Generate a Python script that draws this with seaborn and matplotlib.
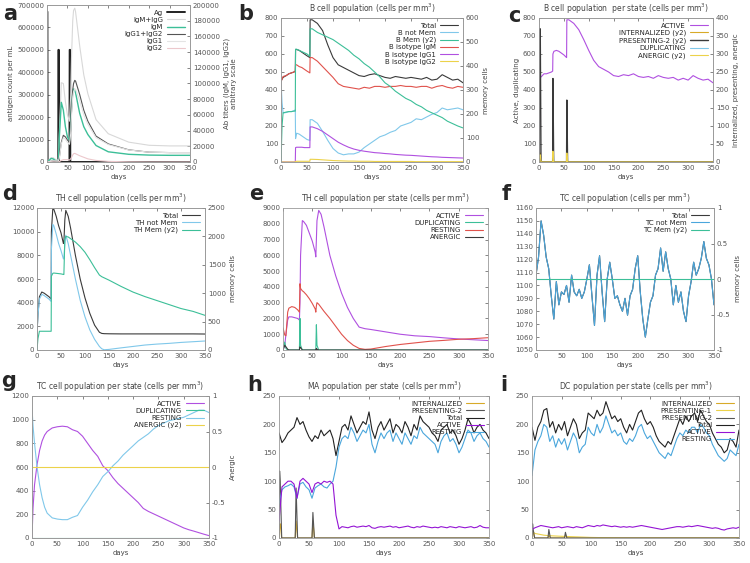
import numpy as np
import matplotlib
matplotlib.use('Agg')
import matplotlib.pyplot as plt
import seaborn as sns

# ---- data (days on x) ----

# a: antigen and antibody titers
a_ag_days = [0, 1, 1.5, 27.5, 28, 29, 29.5, 55, 55.5, 56.5, 57, 350]
a_ag = [670000, 670000, 0, 0, 500000, 500000, 0, 0, 500000, 500000, 0, 0]
a_ab_days = [0, 5, 10, 15, 20, 25, 28, 30, 35, 40, 45, 50, 55, 58, 60, 63, 65, 68, 70, 80, 90, 100, 120, 150, 200, 250, 300, 350]
a_igm_igg = [0, 2500, 5500, 5500, 3500, 2500, 3500, 35000, 101000, 100000, 77000, 60000, 52000, 85000, 133000, 180000, 193000, 196000, 191000, 148000, 111000, 87000, 54000, 36000, 25300, 21300, 20500, 20500]
a_igm = [0, 2000, 4500, 4000, 2000, 1000, 2000, 30000, 76000, 66000, 45000, 32000, 27000, 45000, 68000, 88000, 93000, 92000, 88000, 62000, 45000, 35000, 21000, 13000, 9800, 8800, 8500, 8500]
a_igg12 = [0, 500, 1000, 1500, 1500, 1500, 1500, 5000, 25000, 34000, 32000, 28000, 25000, 40000, 65000, 92000, 100000, 104000, 103000, 86000, 66000, 52000, 33000, 23000, 15500, 12500, 12000, 12000]
a_igg1 = [0, 500, 1000, 1500, 1500, 1500, 1500, 4500, 23000, 31000, 29000, 25000, 22500, 36000, 59000, 83000, 89500, 93000, 92500, 78000, 60000, 48000, 31000, 22200, 15300, 12500, 12000, 12000]
a_igg2 = [0, 0, 0, 0, 0, 0, 0, 500, 2000, 3000, 3000, 3000, 2500, 4000, 6000, 9000, 10500, 11000, 10500, 8000, 6000, 4000, 2000, 800, 200, 0, 0, 0]

# b: B cell population
b_days = [0, 2, 4, 10, 15, 20, 25, 27.5, 28, 30, 35, 40, 45, 50, 55.5, 56, 60,
          70, 80, 90, 100, 110, 120, 130, 140, 150, 160, 170, 180, 190, 200, 210,
          220, 230, 240, 250, 260, 270, 280, 290, 300, 310, 320, 330, 340, 350]
b_total = [450, 460, 470, 480, 490, 495, 500, 505, 625, 625, 620, 610, 600, 590, 580, 790, 790,
           770, 730, 650, 580, 540, 525, 510, 495, 480, 475, 485, 490, 480, 470, 465,
           475, 470, 465, 470, 465, 460, 470, 455, 460, 485, 470, 455, 460, 440]
b_notmem = [450, 330, 272, 275, 280, 280, 285, 290, 130, 160, 155, 145, 135, 125, 120, 235, 235,
            215, 170, 120, 75, 50, 40, 45, 45, 55, 80, 100, 120, 140, 150, 165,
            175, 200, 210, 220, 240, 235, 250, 265, 275, 300, 290, 295, 300, 290]
b_mem = [0, 150, 205, 208, 210, 210, 212, 212, 470, 470, 465, 460, 455, 450, 440, 555, 555,
         540, 530, 520, 510, 495, 480, 465, 445, 430, 410, 395, 375, 355, 330, 315,
         295, 280, 265, 255, 240, 230, 215, 205, 195, 185, 170, 160, 150, 142]
b_igm = [445, 460, 475, 480, 490, 495, 500, 505, 540, 540, 530, 525, 515, 505, 495, 580, 580,
         560, 530, 500, 470, 435, 420, 415, 410, 405, 415, 410, 420, 420, 415, 420,
         420, 425, 420, 420, 415, 420, 420, 410, 420, 425, 415, 410, 420, 415]
b_igg1 = [0, 0, 0, 0, 0, 0, 0, 0, 80, 82, 82, 82, 80, 80, 80, 195, 195,
          185, 170, 150, 130, 110, 95, 82, 72, 65, 60, 56, 52, 50, 47, 45,
          42, 40, 38, 37, 35, 33, 31, 29, 28, 26, 25, 24, 23, 22]
b_igg2 = [0, 0, 0, 0, 0, 0, 0, 0, 3, 4, 4, 4, 4, 4, 4, 15, 15,
          14, 12, 10, 8, 7, 6, 5, 5, 4, 4, 4, 3, 3, 3, 3,
          3, 3, 3, 3, 2, 2, 2, 2, 2, 2, 2, 2, 2, 2]

# c: B cell population per state
c_days = [0, 1, 3, 5, 10, 15, 20, 25, 27.5, 28, 30, 35, 40, 45, 50, 55.5, 56, 60,
          70, 80, 90, 100, 110, 120, 130, 140, 150, 160, 170, 180, 190, 200, 210,
          220, 230, 240, 250, 260, 270, 280, 290, 300, 310, 320, 330, 340, 350]
c_active = [0, 200, 470, 475, 490, 490, 495, 500, 505, 600, 615, 620, 615, 605, 595, 580, 790, 790,
            770, 735, 680, 620, 565, 530, 515, 500, 480, 475, 485, 480, 490, 475, 470,
            475, 465, 480, 470, 465, 470, 455, 465, 455, 480, 465, 455, 460, 440]
c_spike_days = [0, 1.5, 2.5, 4, 27.5, 28, 29.5, 55.5, 56, 57.5, 350]
c_internalized = [0, 25, 25, 0, 0, 15, 0, 0, 30, 0, 0]
c_presenting2 = [0, 370, 370, 0, 0, 232, 0, 0, 172, 0, 0]
c_duplicating = [0, 0, 0, 0, 0, 140, 0, 0, 180, 0, 0]
c_anergic = [0, 20, 20, 0, 0, 30, 0, 0, 25, 0, 0]

# d: TH cell population
d_days = [0, 2, 5, 10, 15, 20, 25, 29.5, 30, 33, 35, 40, 45, 50, 55, 56, 58, 60, 65, 70,
          80, 90, 100, 110, 120, 130, 135, 140, 150, 175, 200, 225, 250, 275, 300, 325, 350]
d_total = [1400, 3000, 4500, 4900, 4800, 4650, 4500, 4300, 10000, 12000, 11900, 11300, 10500, 9900,
           9000, 9100, 11000, 11800, 11300, 10300, 8000, 6000, 4400, 3100, 2100, 1500,
           1400, 1380, 1370, 1360, 1360, 1360, 1360, 1360, 1360, 1360, 1350]
d_notmem = [1400, 2900, 4300, 4700, 4600, 4450, 4300, 4100, 8500, 10600, 10500, 9800, 9000, 8400,
            7700, 7700, 9000, 9700, 9000, 8000, 6000, 4200, 2800, 1700, 900, 300,
            100, 20, 50, 180, 300, 420, 500, 560, 640, 700, 760]
d_mem = [0, 200, 330, 330, 330, 330, 330, 330, 1300, 1350, 1355, 1350, 1345, 1340,
         1330, 1330, 1950, 2000, 1990, 1960, 1900, 1820, 1720, 1590, 1450, 1320,
         1290, 1270, 1230, 1120, 1020, 940, 870, 800, 730, 680, 610]

# e: TH cell population per state
e_days = [0, 3, 5, 8, 10, 15, 20, 25, 28, 29, 30, 33, 35, 40, 45, 50, 55, 56, 57, 58, 61, 65, 70,
          80, 90, 100, 110, 120, 130, 140, 150, 175, 200, 225, 250, 275, 300, 325, 350]
e_active = [0, 300, 1000, 1900, 2100, 2100, 2050, 2000, 1900, 3000, 6000, 8200, 8150, 7900, 7400, 6900,
            6200, 5900, 7000, 8200, 8850, 8600, 7800, 6000, 4700, 3600, 2700, 2000, 1450, 1350, 1300,
            1150, 1000, 900, 850, 770, 700, 650, 600]
e_duplicating = [0, 500, 100, 0, 0, 0, 0, 0, 0, 2000, 300, 0, 0, 0, 0, 0,
                 0, 0, 1600, 300, 0, 0, 0, 0, 0, 0, 0, 0, 0, 0, 0,
                 0, 0, 0, 0, 0, 0, 0, 0]
e_resting = [1400, 950, 900, 2400, 2650, 2750, 2700, 2550, 2400, 4200, 3900, 3750, 3700, 3500, 3250, 2950,
             2600, 2400, 2800, 3000, 2900, 2700, 2450, 2000, 1500, 1000, 600, 300, 100, 40, 60,
             220, 350, 450, 550, 610, 680, 720, 780]
e_anergic = [0, 300, 200, 50, 0, 0, 0, 0, 0, 200, 150, 0, 0, 0, 0, 0,
             0, 0, 100, 50, 0, 0, 0, 0, 0, 0, 0, 0, 0, 0, 0,
             0, 0, 0, 0, 0, 0, 0, 0]

# f: TC cell population (every 5 days)
f_days = list(range(0, 351, 5))
f_total = [1108, 1122, 1150, 1139, 1122, 1113, 1092, 1074, 1103, 1085, 1095, 1093, 1100, 1087, 1108,
           1095, 1092, 1097, 1090, 1095, 1105, 1116, 1092, 1069, 1108, 1123, 1095, 1072, 1105,
           1118, 1105, 1090, 1092, 1085, 1080, 1090, 1077, 1092, 1097, 1113, 1123, 1095, 1074,
           1060, 1074, 1087, 1092, 1108, 1113, 1129, 1111, 1126, 1113, 1105, 1085, 1100, 1087,
           1095, 1080, 1072, 1092, 1103, 1118, 1108, 1113, 1121, 1134, 1121, 1116, 1105, 1085]
f_mem = [0] * len(f_days)

# g: TC cell population per state
g_days = [0, 2, 5, 10, 15, 20, 25, 30, 40, 50, 60, 70, 80, 90, 100, 110, 120, 130, 140, 150,
          160, 170, 180, 190, 200, 210, 220, 230, 240, 250, 260, 270, 280, 290, 300, 310, 320, 330, 340, 350]
g_active = [0, 250, 450, 620, 740, 820, 870, 900, 930, 940, 945, 940, 915, 900, 860, 800, 740, 690, 610, 570,
            510, 460, 420, 380, 340, 300, 250, 225, 205, 185, 165, 145, 125, 105, 85, 70, 58, 45, 32, 20]
g_resting = [1100, 950, 800, 600, 450, 340, 260, 210, 170, 160, 155, 155, 175, 190, 260, 320, 390, 450, 520, 560,
             610, 650, 700, 740, 780, 820, 850, 880, 920, 950, 970, 990, 1000, 1010, 1020, 1040, 1060, 1080, 1080, 1060]
g_duplicating = [0] * len(g_days)
g_anergic = [0] * len(g_days)

# h: MA population per state (every 5 days)
h_days = list(range(0, 351, 5))
h_total = [185, 168, 175, 185, 190, 195, 212, 200, 205, 190, 178, 170, 180, 175, 190, 180, 185, 190, 175, 145,
           170, 195, 200, 190, 215, 200, 185, 195, 205, 200, 222, 190, 175, 195, 205, 190, 200, 210, 185, 200,
           195, 185, 205, 195, 180, 200, 190, 215, 205, 200, 195, 185, 180, 170, 190, 195, 200, 185, 190, 180,
           165, 175, 190, 210, 200, 185, 195, 200, 190, 185, 175]
h_resting = [60, 85, 90, 92, 95, 90, 70, 95, 98, 90, 85, 70, 88, 92, 95, 90, 88, 95, 100, 125,
             160, 175, 180, 175, 195, 185, 170, 180, 190, 185, 200, 165, 150, 170, 185, 175, 185, 190, 170, 185,
             175, 165, 185, 175, 165, 180, 175, 195, 185, 180, 175, 170, 165, 150, 170, 180, 185, 170, 175, 165,
             150, 160, 175, 190, 185, 170, 180, 185, 175, 170, 160]
h_active = [30, 90, 95, 100, 100, 95, 70, 100, 105, 100, 95, 80, 95, 98, 95, 100, 98, 100, 95, 40,
            16, 20, 19, 18, 20, 21, 19, 20, 21, 20, 22, 18, 17, 19, 20, 19, 20, 21, 19, 20,
            18, 19, 20, 21, 19, 18, 20, 19, 21, 20, 19, 18, 19, 18, 20, 19, 18, 20, 19, 18,
            20, 19, 18, 19, 20, 18, 19, 22, 19, 18, 18]
h_spike_days = [0, 1, 2, 4.5, 27, 28.5, 31, 55, 56.5, 59, 350]
h_internalized = [0, 20, 25, 0, 0, 30, 0, 0, 30, 0, 0]
h_presenting2 = [0, 118, 100, 0, 0, 88, 0, 0, 45, 0, 0]

# i: DC population per state (every 5 days)
i_days = list(range(0, 351, 5))
i_total = [195, 172, 195, 205, 225, 228, 195, 205, 185, 200, 190, 205, 180, 195, 210, 200, 175, 185, 190, 220,
           215, 210, 225, 215, 220, 240, 225, 210, 215, 205, 210, 195, 185, 200, 190, 205, 220, 225, 210, 200,
           205, 195, 180, 170, 165, 160, 170, 165, 180, 195, 210, 200, 215, 205, 215, 220, 205, 225, 215, 205,
           200, 185, 175, 165, 160, 150, 155, 175, 170, 160, 190]
i_resting = [110, 155, 170, 180, 200, 195, 170, 180, 160, 175, 165, 175, 155, 170, 185, 175, 150, 160, 165, 195,
             185, 180, 200, 185, 195, 215, 200, 185, 190, 180, 185, 170, 165, 175, 170, 180, 195, 200, 185, 175,
             180, 170, 160, 150, 145, 140, 150, 145, 160, 175, 185, 180, 190, 185, 195, 195, 185, 200, 195, 185,
             180, 165, 155, 145, 140, 135, 140, 155, 150, 145, 165]
i_active = [15, 18, 20, 22, 21, 20, 19, 18, 19, 20, 18, 19, 20, 19, 18, 20, 19, 18, 20, 22,
            21, 20, 22, 21, 23, 22, 21, 20, 21, 20, 19, 20, 19, 20, 19, 20, 21, 22, 21, 20,
            19, 18, 17, 16, 15, 16, 17, 18, 19, 20, 20, 19, 20, 21, 20, 21, 22, 21, 20, 19,
            18, 17, 18, 17, 15, 14, 16, 17, 18, 17, 19]
i_pres1_days = [0, 5, 10, 20, 30, 50, 75, 100, 150, 350]
i_presenting1 = [12, 8, 7, 5, 4, 3, 2, 1, 0, 0]
i_spike_days = [0, 1, 2, 4.5, 27, 28.5, 31, 55, 56.5, 59, 350]
i_internalized = [0, 10, 10, 0, 0, 5, 0, 0, 5, 0, 0]
i_presenting2 = [0, 25, 15, 0, 0, 15, 0, 0, 10, 0, 0]

# ---- style ----
sns.set_style('white')
plt.rcParams['font.family'] = ['DejaVu Sans']

DARK = '#3a3a3a'
LBLUE = '#80c8ea'
BLUE = '#4aa6dc'
TEAL = '#3cbf98'
RED = '#e0524c'
PURPLE = '#b050e0'
VIOLET = '#9414d4'
YELLOW = '#ecd24a'
GOLD = '#d8aa28'
LGRAY = '#d8d8d8'
PINK = '#ecc8cc'

W, H = 750, 563
fig = plt.figure(figsize=(7.5, 5.63), dpi=100)


def box(l, t, r, b):
    return [l / W, 1 - b / H, (r - l) / W, (b - t) / H]


def style(ax, ylim, yticks, title=None, ylabel=None, twin=False):
    ax.set_xlim(0, 350)
    ax.set_xticks(range(0, 351, 50))
    ax.set_ylim(*ylim)
    ax.set_yticks(yticks)
    ax.tick_params(labelsize=5, length=2, width=0.5, direction='in', pad=2,
                   colors='#555555', top=True, right=not twin)
    for s in ax.spines.values():
        s.set_color('#9a9a9a')
        s.set_linewidth(0.6)
    ax.set_xlabel('days', fontsize=5, labelpad=2, color='#444444')
    if ylabel:
        ax.set_ylabel(ylabel, fontsize=5, labelpad=2, color='#444444')
    if title:
        ax.set_title(title, fontsize=5.5, pad=4, color='#444444')


def right_axis(ax, ylim, yticks, ylabel=None, labels=None):
    ax2 = ax.twinx()
    ax2.set_ylim(*ylim)
    ax2.set_yticks(yticks)
    if labels:
        ax2.set_yticklabels(labels)
    ax2.tick_params(labelsize=5, length=2, width=0.5, direction='in', pad=2, colors='#555555')
    for s in ax2.spines.values():
        s.set_color('#9a9a9a')
        s.set_linewidth(0.6)
    if ylabel:
        ax2.set_ylabel(ylabel, fontsize=5, labelpad=3, color='#444444')
    return ax2


def line(ax, x, y, color, label, lw=0.8):
    sns.lineplot(x=x, y=y, ax=ax, color=color, lw=lw, estimator=None, sort=False, legend=False)
    ln = ax.lines[-1]
    ln.set_label(label)
    return ln


def legend(ax, handles):
    ax.legend(handles=handles, loc='upper right', frameon=False, markerfirst=False,
              fontsize=5, handlelength=2.6, labelspacing=0.15, borderaxespad=0.3,
              handletextpad=0.6)


mm3 = ' (cells per mm$^3$)'
unit_ticks = [-1, -0.5, 0, 0.5, 1]
unit_labels = ['-1', '-0.5', '0', '0.5', '1']

# ---- a ----
ax = fig.add_axes(box(47, 5, 190, 162))
style(ax, (0, 700000), range(0, 700001, 100000), ylabel='antigen count per mL', twin=True)
ax2 = right_axis(ax, (0, 200000), range(0, 200001, 20000), 'Ab titers (IgM, IgG1, IgG2)\narbitrary scale')
hs = [line(ax, a_ag_days, a_ag, '#222222', 'Ag', lw=1.4)]
hs.append(line(ax2, a_ab_days, a_igm_igg, LGRAY, 'IgM+IgG'))
hs.append(line(ax2, a_ab_days, a_igm, TEAL, 'IgM', lw=1.0))
hs.append(line(ax2, a_ab_days, a_igg12, '#555555', 'IgG1+IgG2'))
hs.append(line(ax2, a_ab_days, a_igg1, '#e4e4e4', 'IgG1'))
hs.append(line(ax2, a_ab_days, a_igg2, PINK, 'IgG2'))
legend(ax2, hs)

# ---- b ----
ax = fig.add_axes(box(281, 18, 463, 162))
style(ax, (0, 800), range(0, 801, 100), title='B cell population' + mm3, twin=True)
ax2 = right_axis(ax, (0, 600), range(0, 601, 100), 'memory cells')
hs = [line(ax, b_days, b_total, DARK, 'Total'),
      line(ax, b_days, b_notmem, LBLUE, 'B not Mem'),
      line(ax2, b_days, b_mem, TEAL, 'B Mem (y2)'),
      line(ax, b_days, b_igm, RED, 'B isotype IgM'),
      line(ax, b_days, b_igg1, PURPLE, 'B isotype IgG1'),
      line(ax, b_days, b_igg2, YELLOW, 'B isotype IgG2')]
legend(ax2, hs)

# ---- c ----
ax = fig.add_axes(box(539, 18, 713, 162))
style(ax, (0, 800), range(0, 801, 100), title='B cell population  per state' + mm3,
      ylabel='Active, duplicating', twin=True)
ax2 = right_axis(ax, (0, 400), range(0, 401, 50), 'Internalized, presenting, anergic')
hs = [line(ax, c_days, c_active, PURPLE, 'ACTIVE'),
      line(ax2, c_spike_days, c_internalized, GOLD, 'INTERNALIZED (y2)'),
      line(ax2, c_spike_days, c_presenting2, DARK, 'PRESENTING-2 (y2)', lw=1.0),
      line(ax, c_spike_days, c_duplicating, LBLUE, 'DUPLICATING'),
      line(ax2, c_spike_days, c_anergic, YELLOW, 'ANERGIC (y2)')]
legend(ax2, hs)

# ---- d ----
ax = fig.add_axes(box(37, 208, 205, 350))
style(ax, (0, 12000), range(0, 12001, 2000), title='TH cell population' + mm3, twin=True)
ax2 = right_axis(ax, (0, 2500), range(0, 2501, 500), 'memory cells')
hs = [line(ax, d_days, d_total, DARK, 'Total'),
      line(ax, d_days, d_notmem, LBLUE, 'TH not Mem'),
      line(ax2, d_days, d_mem, TEAL, 'TH Mem (y2)')]
legend(ax2, hs)

# ---- e ----
ax = fig.add_axes(box(283, 208, 488, 350))
style(ax, (0, 9000), range(0, 9001, 1000), title='TH cell population per state' + mm3)
hs = [line(ax, e_days, e_active, PURPLE, 'ACTIVE'),
      line(ax, e_days, e_duplicating, TEAL, 'DUPLICATING'),
      line(ax, e_days, e_resting, RED, 'RESTING'),
      line(ax, e_days, e_anergic, DARK, 'ANERGIC')]
legend(ax, hs)

# ---- f ----
ax = fig.add_axes(box(536, 208, 714, 350))
style(ax, (1050, 1160), range(1050, 1161, 10), title='TC cell population' + mm3, twin=True)
ax2 = right_axis(ax, (-1, 1), unit_ticks, 'memory cells', unit_labels)
hs = [line(ax, f_days, f_total, DARK, 'Total'),
      line(ax, f_days, f_total, BLUE, 'TC not Mem'),
      line(ax2, f_days, f_mem, TEAL, 'TC Mem (y2)')]
legend(ax2, hs)

# ---- g ----
ax = fig.add_axes(box(32, 396, 209, 538))
style(ax, (0, 1200), range(0, 1201, 200), title='TC cell population per state' + mm3, twin=True)
ax2 = right_axis(ax, (-1, 1), unit_ticks, 'Anergic', unit_labels)
hs = [line(ax, g_days, g_active, PURPLE, 'ACTIVE'),
      line(ax, g_days, g_duplicating, TEAL, 'DUPLICATING'),
      line(ax, g_days, g_resting, LBLUE, 'RESTING'),
      line(ax2, g_days, g_anergic, YELLOW, 'ANERGIC (y2)')]
legend(ax2, hs)

# ---- h ----
ax = fig.add_axes(box(279, 396, 489, 538))
style(ax, (0, 250), range(0, 251, 50), title='MA population per state' + mm3)
h_int = line(ax, h_spike_days, h_internalized, GOLD, 'INTERNALIZED')
h_pres = line(ax, h_spike_days, h_presenting2, '#555555', 'PRESENTING-2')
h_tot = line(ax, h_days, h_total, '#222222', 'Total')
h_rest = line(ax, h_days, h_resting, BLUE, 'RESTING')
h_act = line(ax, h_days, h_active, VIOLET, 'ACTIVE')
legend(ax, [h_int, h_pres, h_tot, h_act, h_rest])

# ---- i ----
ax = fig.add_axes(box(532, 396, 739, 538))
style(ax, (0, 250), range(0, 251, 50), title='DC population per state' + mm3)
i_int = line(ax, i_spike_days, i_internalized, GOLD, 'INTERNALIZED')
i_p1 = line(ax, i_pres1_days, i_presenting1, YELLOW, 'PRESENTING-1')
i_p2 = line(ax, i_spike_days, i_presenting2, '#555555', 'PRESENTING-2')
i_tot = line(ax, i_days, i_total, '#222222', 'Total')
i_rest = line(ax, i_days, i_resting, BLUE, 'RESTING')
i_act = line(ax, i_days, i_active, VIOLET, 'ACTIVE')
legend(ax, [i_int, i_p1, i_p2, i_tot, i_act, i_rest])

# panel letters
for letter, x, y in [('a', 3, 14), ('b', 238, 14), ('c', 508, 16),
                     ('d', 2, 194), ('e', 249, 194), ('f', 502, 194),
                     ('g', 1, 381), ('h', 247, 385), ('i', 500, 385)]:
    fig.text(x / W, 1 - y / H, letter, fontsize=15, fontweight='bold', ha='left', va='center')

fig.savefig('out.png', dpi=100)
